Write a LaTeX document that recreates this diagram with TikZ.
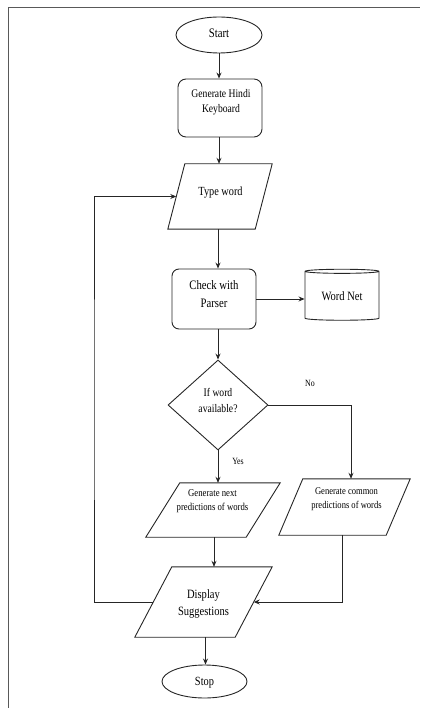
\documentclass[tikz,border=0pt]{standalone}
\usepackage{fontspec}
\setmainfont[FakeStretch=0.83]{Liberation Serif}
\usetikzlibrary{shapes.geometric,arrows.meta,calc}
\newcommand{\paraframe}[2]{%
  \draw[line] (#1.south west) -- ($(#1.north west)+(#2,0)$) -- (#1.north east) -- ($(#1.south east)-(#2,0)$) -- cycle;
  \coordinate (#1-w) at ($(#1.west)+(#2/2,0)$);
  \coordinate (#1-e) at ($(#1.east)-(#2/2,0)$);}
\begin{document}
\begin{tikzpicture}[x=1pt,y=-1pt,
  line/.style={draw=black!85, line width=0.9pt},
  arr/.style={line, -{Stealth[length=6pt,width=5pt]}},
  term/.style={ellipse, line, inner sep=0pt},
  proc/.style={rectangle, rounded corners=8pt, line, inner sep=0pt},
  io/.style={rectangle, inner sep=0pt},
  db/.style={cylinder, shape border rotate=90, shape aspect=0.1, line, inner sep=0pt, align=center},
  dec/.style={diamond, line, inner sep=0pt},
  txt/.style={inner sep=0pt, align=center},
  lbl/.style={inner sep=0pt, font=\fontsize{9.5}{11}\selectfont}]
\useasboundingbox (0,0) rectangle (420,708);
\draw[draw=black!65, line width=1.6pt] (8.5,708) -- (8.5,7.5) -- (420,7.5);

% shapes
\node[term, minimum width=86pt, minimum height=36pt] (start) at (219,35) {};
\node[proc, minimum width=84pt, minimum height=58pt] (gen) at (220,108) {};
\node[io, minimum width=104pt, minimum height=65pt] (tw) at (220,196.5) {};
\paraframe{tw}{17}
\node[proc, rounded corners=7pt, minimum width=84pt, minimum height=60pt] (chk) at (214,299) {};
\node[db, minimum width=74pt, minimum height=51pt, font=\fontsize{12.7}{15}\selectfont] (wn) at (342,296) {Word Net};
\node[dec, minimum width=100pt, minimum height=90pt] (dia) at (218,405) {};
\node[io, minimum width=134pt, minimum height=54pt] (gnext) at (213,510) {};
\paraframe{gnext}{34}
\node[io, minimum width=131pt, minimum height=56pt] (gcom) at (344.5,507) {};
\paraframe{gcom}{24}
\node[io, minimum width=137pt, minimum height=70pt] (disp) at (203.5,602) {};
\paraframe{disp}{37}
\node[term, minimum width=85pt, minimum height=33pt] (stop) at (204.5,681.5) {};

% texts
\node[txt, font=\fontsize{13}{15}\selectfont] (start-t) at (219,33.5) {Start};
\node[txt, font=\fontsize{11.6}{15}\selectfont] (gen-t) at (221,102.5) {Generate Hindi\\Keyboard};
\node[txt, font=\fontsize{12.4}{15}\selectfont] (tw-t) at (220.5,193) {Type word};
\node[txt, font=\fontsize{12.9}{17.5}\selectfont] (chk-t) at (214,294) {Check with\\Parser};
\node[txt, font=\fontsize{11.6}{15.7}\selectfont] (dia-t) at (218,400.5) {If word\\available?};
\node[txt, font=\fontsize{10.5}{14}\selectfont] (gnext-t) at (212.5,501) {Generate next\\predictions of words};
\node[txt, font=\fontsize{10.3}{14}\selectfont] (gcom-t) at (346.5,499.5) {Generate common\\predictions of words};
\node[txt, font=\fontsize{12.7}{17}\selectfont] (disp-t) at (203.5,603.5) {Display\\Suggestions};
\node[txt, font=\fontsize{12.5}{15}\selectfont] (stop-t) at (204.5,682.5) {Stop};

\node[lbl] (no) at (310,383) {No};
\node[lbl] (yes) at (238,461) {Yes};
\coordinate (lp) at (94,400);

\draw[arr] (start.south) -- (start.south |- gen.north);
\draw[arr] ([xshift=-1pt]gen.south) -- ([xshift=-1pt]gen.south |- tw.north);
\draw[arr] ([xshift=-2pt]tw.south) -- ([xshift=-2pt]tw.south |- chk.north);
\draw[arr] (chk.east) -- (chk.east -| wn.west);
\draw[arr] (dia.north |- chk.south) -- (dia.north);
\draw[arr] (dia.south) -- (dia.south |- gnext.north);
\draw[arr] (dia.east) -| ([xshift=6.5pt]gcom.north);
\draw[arr] ([xshift=1pt]gnext.south) -- ([xshift=1pt]gnext.south |- disp.north);
\draw[arr] ([xshift=-2.5pt]gcom.south) |- (disp-e);
\draw[arr] ([xshift=2pt]disp.south) -- ([xshift=2pt]disp.south |- stop.north);
\draw[arr] (disp-w) -| (lp) |- (tw-w);
\end{tikzpicture}
\end{document}
